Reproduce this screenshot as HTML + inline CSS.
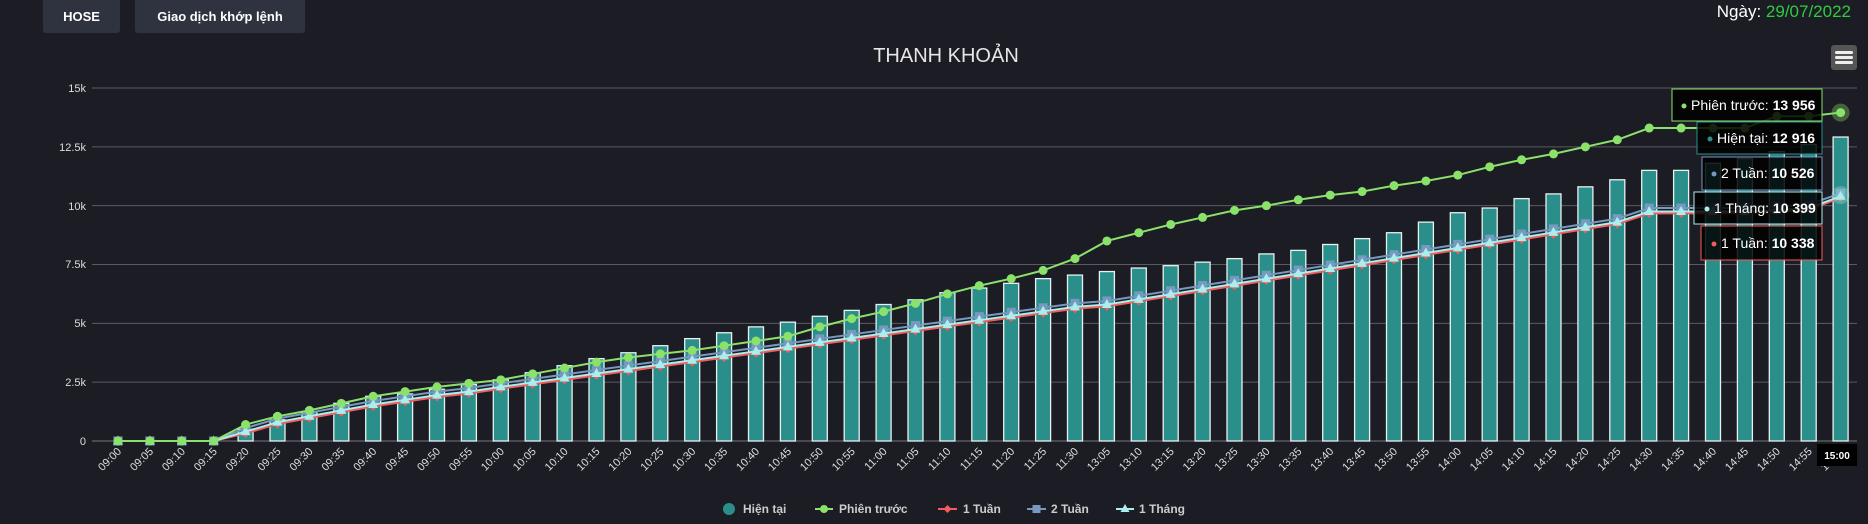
<!DOCTYPE html>
<html><head><meta charset="utf-8">
<style>
html,body{margin:0;padding:0;background:#1c1c24;width:1868px;height:524px;overflow:hidden;font-family:"Liberation Sans",Arial,sans-serif;}
.btn{position:absolute;top:0;height:33px;background:#2e333f;color:#fff;font-weight:bold;font-size:13px;line-height:33px;text-align:center;border-radius:0 0 3px 3px;}
</style></head><body>
<div class="btn" style="left:43px;width:77px">HOSE</div>
<div class="btn" style="left:135px;width:170px">Giao dịch khớp lệnh</div>
<div style="position:absolute;right:17px;top:2px;font-size:17px;color:#fff">Ngày: <span style="color:#2ecc40">29/07/2022</span></div>
<svg id="c" width="1868" height="524" style="position:absolute;left:0;top:0" xmlns="http://www.w3.org/2000/svg" font-family="Liberation Sans, Arial, sans-serif">
<text x="946" y="62" fill="#e6e6e6" font-size="20" text-anchor="middle">THANH KHOẢN</text>
<rect x="1831" y="45" width="26" height="25" rx="3" fill="#555"/>
<rect x="1835" y="51" width="18" height="3" rx="1.5" fill="#eee"/><rect x="1835" y="56" width="18" height="3" rx="1.5" fill="#eee"/><rect x="1835" y="61" width="18" height="3" rx="1.5" fill="#eee"/>
<g fill="#ddd" font-size="11" text-anchor="end">
<text x="86" y="92">15k</text><text x="86" y="151">12.5k</text><text x="86" y="210">10k</text><text x="86" y="268">7.5k</text><text x="86" y="327">5k</text><text x="86" y="386">2.5k</text><text x="86" y="445">0</text>
</g>
<g id="grid"></g><g id="bars"></g><g id="lines"></g>
<g id="xl" fill="#ddd" font-size="11" text-anchor="end">
<text>09:00</text><text>09:05</text><text>09:10</text><text>09:15</text><text>09:20</text><text>09:25</text><text>09:30</text><text>09:35</text><text>09:40</text><text>09:45</text><text>09:50</text><text>09:55</text><text>10:00</text><text>10:05</text><text>10:10</text><text>10:15</text><text>10:20</text><text>10:25</text><text>10:30</text><text>10:35</text><text>10:40</text><text>10:45</text><text>10:50</text><text>10:55</text><text>11:00</text><text>11:05</text><text>11:10</text><text>11:15</text><text>11:20</text><text>11:25</text><text>11:30</text><text>13:05</text><text>13:10</text><text>13:15</text><text>13:20</text><text>13:25</text><text>13:30</text><text>13:35</text><text>13:40</text><text>13:45</text><text>13:50</text><text>13:55</text><text>14:00</text><text>14:05</text><text>14:10</text><text>14:15</text><text>14:20</text><text>14:25</text><text>14:30</text><text>14:35</text><text>14:40</text><text>14:45</text><text>14:50</text><text>14:55</text><text>15:00</text>
</g>
<rect x="1817" y="444" width="40" height="22" fill="#000"/>
<text x="1837" y="459" fill="#fff" font-size="10" font-weight="bold" text-anchor="middle">15:00</text>
<g font-size="12" font-weight="bold" fill="#ccc">
<circle cx="729" cy="509" r="6" fill="#2a8f8a"/><text x="743" y="513">Hiện tại</text>
<line x1="815" y1="509" x2="833" y2="509" stroke="#8be26a" stroke-width="2"/><circle cx="824" cy="509" r="4" fill="#8be26a"/><text x="839" y="513">Phiên trước</text>
<line x1="938" y1="509" x2="957" y2="509" stroke="#f45b5b" stroke-width="2"/><path d="M947.5 505 L951.5 509 L947.5 513 L943.5 509Z" fill="#f45b5b"/><text x="963" y="513">1 Tuần</text>
<line x1="1027" y1="509" x2="1046" y2="509" stroke="#7798bf" stroke-width="2"/><rect x="1032.5" y="505" width="8" height="8" fill="#7798bf"/><text x="1051" y="513">2 Tuần</text>
<line x1="1116" y1="509" x2="1134" y2="509" stroke="#aaeeee" stroke-width="2"/><path d="M1125 504 L1129.5 512 L1120.5 512Z" fill="#aaeeee"/><text x="1139" y="513">1 Tháng</text>
</g>
<g id="tips" font-size="14" fill="#fff">
<rect x="1672" y="89" width="150" height="32" fill="rgba(0,0,0,.85)" stroke="#8be26a"/>
<circle cx="1684" cy="106" r="2.5" fill="#8be26a"/><text x="1691" y="110">Phiên trước: <tspan font-weight="bold">13 956</tspan></text>
<rect x="1697" y="122" width="125" height="32" fill="rgba(0,0,0,.85)" stroke="#2a8f8a"/>
<circle cx="1710" cy="139" r="2.5" fill="#2a8f8a"/><text x="1717" y="143">Hiện tại: <tspan font-weight="bold">12 916</tspan></text>
<rect x="1702" y="157" width="120" height="33" fill="rgba(0,0,0,.85)" stroke="#7798bf"/>
<circle cx="1714" cy="174" r="2.5" fill="#7798bf"/><text x="1721" y="178">2 Tuần: <tspan font-weight="bold">10 526</tspan></text>
<rect x="1694" y="192" width="128" height="32" fill="rgba(0,0,0,.85)" stroke="#aaeeee"/>
<circle cx="1707" cy="209" r="2.5" fill="#aaeeee"/><text x="1714" y="213">1 Tháng: <tspan font-weight="bold">10 399</tspan></text>
<rect x="1701" y="226" width="121" height="34" fill="rgba(0,0,0,.85)" stroke="#f45b5b"/>
<circle cx="1714" cy="244" r="2.5" fill="#f45b5b"/><text x="1721" y="248">1 Tuần: <tspan font-weight="bold">10 338</tspan></text>
</g>
</svg>
<script>
var NS="http://www.w3.org/2000/svg";
function el(p,t,a){var e=document.createElementNS(NS,t);for(var k in a)e.setAttribute(k,a[k]);p.appendChild(e);return e;}
var Y0=441,PK=(441-88)/15;function y(v){return Y0-v*PK;}
function x(i){return 118+i*31.9;}
var g=document.getElementById('grid');
for(var k=1;k<=6;k++)el(g,'line',{x1:92,x2:1857,y1:y(k*2.5),y2:y(k*2.5),stroke:'#5a5a62','stroke-width':1});
el(g,'line',{x1:92,x2:1857,y1:Y0,y2:Y0,stroke:'#777','stroke-width':1});
var cur=[0,0,0,0,0.5,0.9,1.25,1.6,1.9,2.0,2.2,2.4,2.6,2.9,3.2,3.5,3.75,4.05,4.35,4.6,4.85,5.05,5.3,5.55,5.8,6.0,6.3,6.5,6.7,6.9,7.05,7.2,7.35,7.45,7.6,7.75,7.95,8.1,8.35,8.6,8.85,9.3,9.7,9.9,10.3,10.5,10.8,11.1,11.5,11.5,11.8,12.0,12.3,12.6,12.916];
var prev=[0,0,0,0,0.7,1.05,1.3,1.6,1.9,2.1,2.3,2.45,2.6,2.85,3.1,3.35,3.55,3.7,3.85,4.05,4.25,4.45,4.85,5.2,5.5,5.85,6.25,6.6,6.9,7.25,7.75,8.5,8.85,9.2,9.5,9.8,10.0,10.25,10.45,10.6,10.85,11.05,11.3,11.65,11.95,12.2,12.5,12.8,13.3,13.3,13.3,13.3,13.8,13.8,13.956];
var m=[0,0,0,0,0.4,0.8,1.05,1.3,1.55,1.75,1.95,2.1,2.3];
for(var i=13;i<=30;i++)m.push(2.3+(i-12)*(5.7-2.3)/18);
for(var i=31;i<=47;i++)m.push(5.8+(i-31)*(9.3-5.8)/16);
m.push(9.75,9.75,9.75,9.75,9.8,9.9,10.399);
var w2=m.map(function(v,i){return i<4?0:(i==54?10.526:v+0.15);});
var w1=m.map(function(v,i){return i<4?0:(i==54?10.338:v-0.08);});
var b=document.getElementById('bars');
cur.forEach(function(v,i){if(v>0)el(b,'rect',{x:x(i)-7.5,y:y(v),width:15,height:v*PK,fill:'#2a8f8a',stroke:'#e8f0f0','stroke-width':1.3});});
var L=document.getElementById('lines');
function line(d,c,mk){var p=d.map(function(v,i){return x(i)+','+y(v);}).join(' ');
el(L,'polyline',{points:p,fill:'none',stroke:c,'stroke-width':2});
d.forEach(function(v,i){var X=x(i),Y=y(v);
if(mk=='c')el(L,'circle',{cx:X,cy:Y,r:4.5,fill:c});
else if(mk=='d')el(L,'path',{d:'M'+X+' '+(Y-4.5)+'L'+(X+4.5)+' '+Y+'L'+X+' '+(Y+4.5)+'L'+(X-4.5)+' '+Y+'Z',fill:c});
else if(mk=='s')el(L,'rect',{x:X-4.5,y:Y-4.5,width:9,height:9,fill:c});
else el(L,'path',{d:'M'+X+' '+(Y-5.5)+'L'+(X+5)+' '+(Y+3.5)+'L'+(X-5)+' '+(Y+3.5)+'Z',fill:c});});}
line(w1,'#f45b5b','d');line(w2,'#7798bf','s');line(m,'#aaeeee','t');line(prev,'#8be26a','c');
el(L,'circle',{cx:x(54),cy:y(13.956),r:9,fill:'rgba(139,226,106,.35)'});
el(L,'circle',{cx:x(54),cy:y(10.45),r:9,fill:'rgba(170,238,238,.3)'});
var xs=document.getElementById('xl').children;
for(var i=0;i<xs.length;i++){var X=x(i)+4,Y=452;xs[i].setAttribute('x',X);xs[i].setAttribute('y',Y);xs[i].setAttribute('transform','rotate(-45 '+X+' '+Y+')');}
</script>
</body></html>
